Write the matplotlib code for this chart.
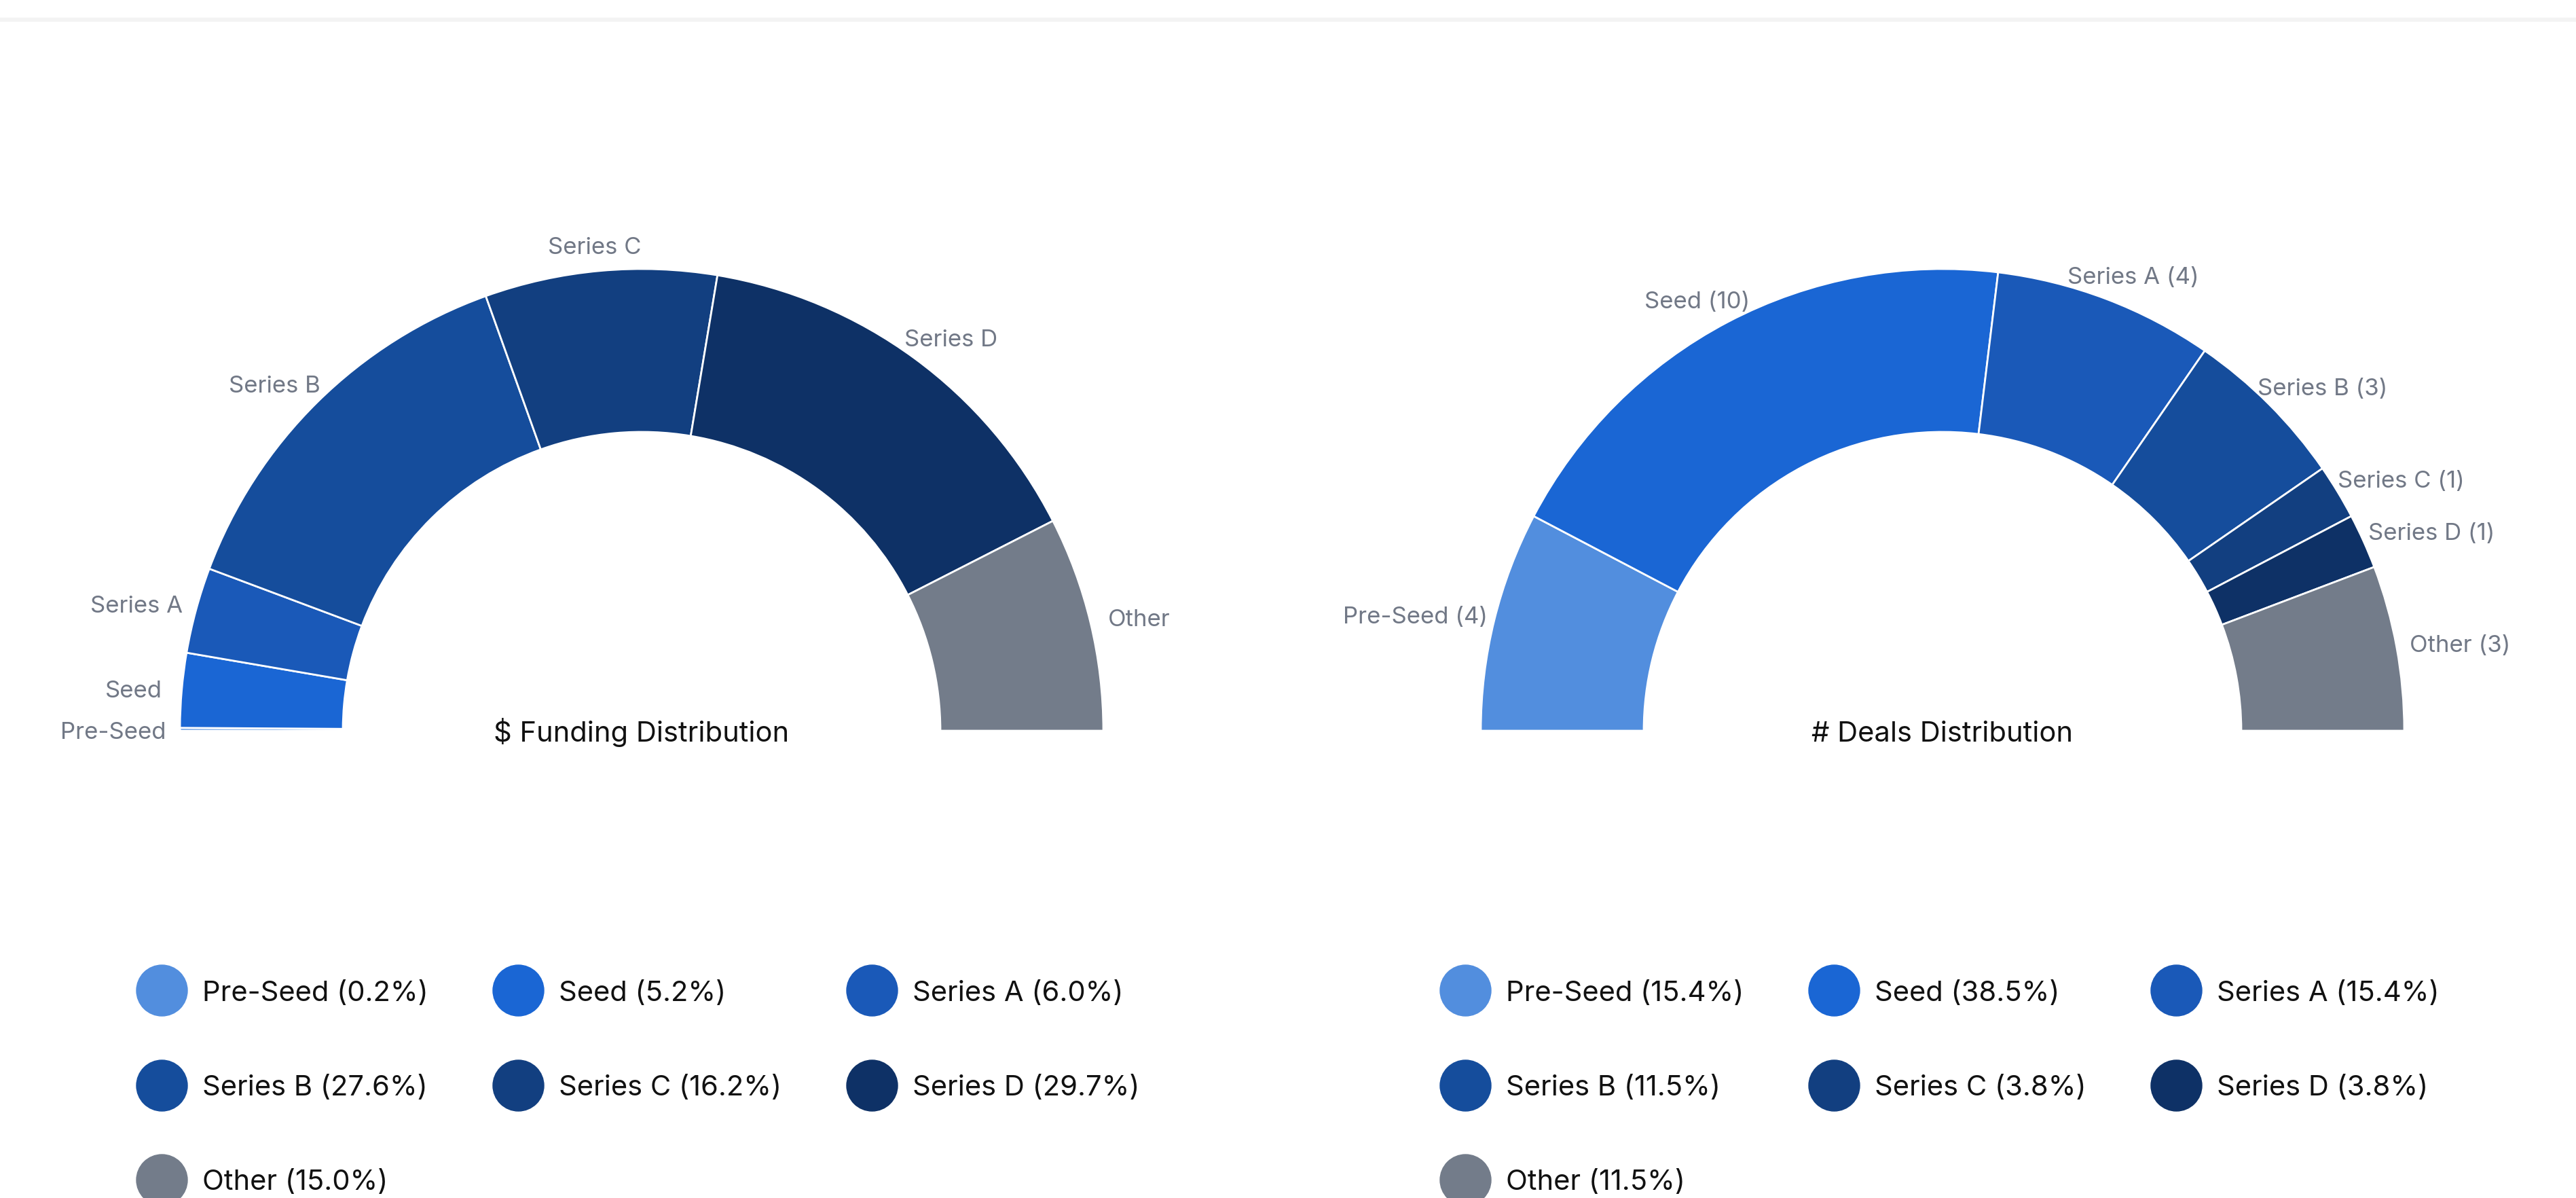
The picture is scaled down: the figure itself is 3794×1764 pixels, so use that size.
import matplotlib.pyplot as plt
from matplotlib.lines import Line2D

stages = ['Pre-Seed', 'Seed', 'Series A', 'Series B', 'Series C', 'Series D', 'Other']
funding_pct = [0.2, 5.2, 6.0, 27.6, 16.2, 29.7, 15.0]
deal_counts = [4, 10, 4, 3, 1, 1, 3]
deal_pct = [15.4, 38.5, 15.4, 11.5, 3.8, 3.8, 11.5]
colors = ['#528ede', '#1a66d4', '#1a59b8', '#154d9c', '#123f80', '#0e3166', '#737c8a']

W, H = 3794, 1765
plt.rcParams['font.family'] = ['Inter', 'DejaVu Sans']

fig = plt.figure(figsize=(W / 100, H / 100), dpi=100)
ax = fig.add_axes([0, 0, 1, 1])
ax.set_xlim(0, W)
ax.set_ylim(0, H)

R_OUT, RING = 680, 240
BASE_Y = H - 1077
LABEL_DIST = 1.057

all_labels = []


def half_donut(cx, values, labels, title):
    vals = list(values) + [sum(values)]  # hidden lower half
    wedges, texts = ax.pie(vals, colors=colors + ['none'], labels=list(labels) + [''],
                           radius=R_OUT, center=(cx, BASE_Y), startangle=180,
                           counterclock=False, labeldistance=LABEL_DIST,
                           wedgeprops=dict(width=RING, edgecolor='white', linewidth=2),
                           textprops=dict(fontsize=25, color='#717886'))
    wedges[-1].set_edgecolor('none')
    for t in texts[:-1]:
        t.set_ha('center')
        t.set_va('center')
        all_labels.append((t, cx))
    ax.text(cx, H - 1092, title, ha='center', va='baseline', fontsize=30, color='#111111')


half_donut(945, funding_pct, stages, '$ Funding Distribution')
half_donut(2861, deal_counts, [f'{s} ({n})' for s, n in zip(stages, deal_counts)],
           '# Deals Distribution')

# legends, filled row by row
order = [0, 3, 6, 1, 4, 2, 5]


def make_legend(x0, pcts):
    handles = [Line2D([], [], marker='o', ls='none', markersize=54, color=colors[i]) for i in order]
    labels = [f'{stages[i]} ({pcts[i]:.1f}%)' for i in order]
    return ax.legend(handles, labels, ncol=3, loc='upper left',
                     bbox_to_anchor=(x0, H - 1444), bbox_transform=ax.transData,
                     frameon=False, fontsize=30, handlelength=1.8, handletextpad=0.54,
                     columnspacing=2.29, labelspacing=2.43, borderpad=0, borderaxespad=0,
                     labelcolor='#111111')


leg1 = make_legend(200, funding_pct)
ax.add_artist(leg1)
make_legend(2120, deal_pct)

ax.axhline(H - 30, color='#f3f3f3', lw=4.5)

ax.set_xlim(0, W)
ax.set_ylim(0, H)
ax.set_aspect('auto')
ax.axis('off')

# push side labels outward by part of their width (labels hug the ring)
renderer = fig.canvas.get_renderer()
for t, cx in all_labels:
    x, y = t.get_position()
    cos_a = (x - cx) / (LABEL_DIST * R_OUT)
    w = t.get_window_extent(renderer).width
    t.set_position((x + 0.38 * cos_a * w, y - 4))

fig.savefig('out.png', dpi=100, facecolor='white')
